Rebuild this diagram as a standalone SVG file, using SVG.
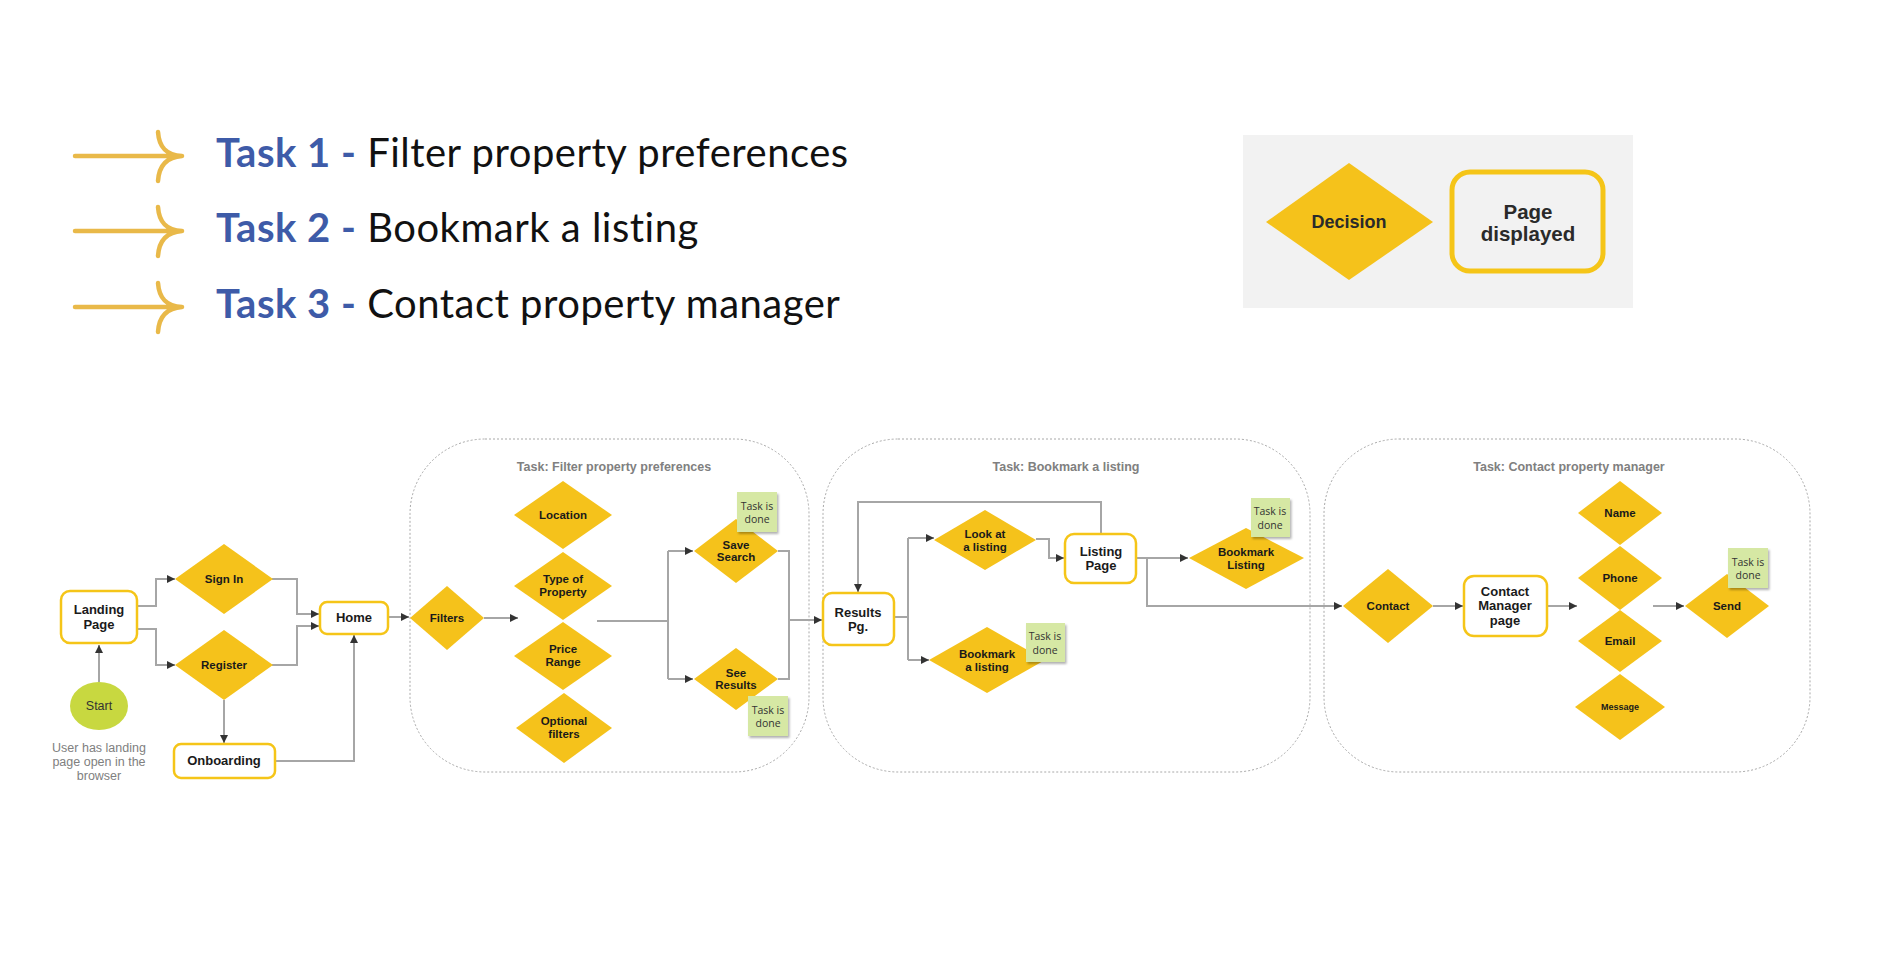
<svg xmlns="http://www.w3.org/2000/svg" width="1900" height="955" viewBox="0 0 1900 955">
<defs>
<style>
.hdr{font-family:Lato,"Liberation Sans",sans-serif;font-size:40px;letter-spacing:0.5px;fill:#111}
.hb{font-weight:bold;fill:#3E5BA8}
.harrow{fill:none;stroke:#E9B949;stroke-width:4.5;stroke-linecap:round}
.dia{fill:#F5C21B}
.page{fill:#fff;stroke:#F5C518;stroke-width:2.5}
.lbl{font-family:"Liberation Sans",Arial,sans-serif;font-weight:bold;font-size:11.5px;fill:#1a1a1a;text-anchor:middle}
.big{font-size:13px}
.conn{fill:none;stroke:#A6A6A6;stroke-width:2}
.task{fill:none;stroke:#A8A8A8;stroke-width:1;stroke-dasharray:2 2}
.title{font-family:"Liberation Sans",Arial,sans-serif;font-weight:bold;font-size:12.5px;fill:#808080;text-anchor:middle}
.note{fill:#D6E8A4}
.nt{font-family:"Open Sans","Liberation Sans",sans-serif;font-size:10.5px;fill:#333;text-anchor:middle}
.cap{font-family:"Liberation Sans",Arial,sans-serif;font-size:12.5px;fill:#808080;text-anchor:middle}
</style>
<marker id="ah" markerWidth="8" markerHeight="8" refX="8" refY="4" orient="auto" markerUnits="userSpaceOnUse">
<path d="M0,0 L8,4 L0,8 Z" fill="#333"/>
</marker>
<filter id="sh" x="-20%" y="-20%" width="150%" height="150%">
<feDropShadow dx="1.5" dy="2" stdDeviation="1.2" flood-color="#000" flood-opacity="0.3"/>
</filter>
</defs>
<rect width="1900" height="955" fill="#fff"/>

<g id="header">
<path class="harrow" d="M75,156 H182 M158,132 C159,147 166,155 182,156 M158,181 C159,166 166,157 182,156"/>
<path class="harrow" d="M75,231 H182 M158,207 C159,222 166,230 182,231 M158,256 C159,241 166,232 182,231"/>
<path class="harrow" d="M75,307 H182 M158,283 C159,298 166,306 182,307 M158,332 C159,317 166,308 182,307"/>
<text class="hdr" x="216" y="167"><tspan class="hb">Task 1 -</tspan> Filter property preferences</text>
<text class="hdr" x="216" y="242"><tspan class="hb">Task 2 -</tspan> Bookmark a listing</text>
<text class="hdr" x="216" y="318"><tspan class="hb">Task 3 -</tspan> Contact property manager</text>
</g>

<g id="legend">
<rect x="1243" y="135" width="390" height="173" fill="#F2F2F2"/>
<polygon class="dia" points="1266,222 1349,163 1433,222 1349,280"/>
<text class="lbl" x="1349" y="228" style="font-size:18px;fill:#2a2a2a">Decision</text>
<rect x="1452" y="172" width="151" height="99" rx="18" fill="#F2F2F2" stroke="#F5C518" stroke-width="5"/>
<text class="lbl" x="1528" y="219" style="font-size:20.5px;fill:#2a2a2a">Page</text>
<text class="lbl" x="1528" y="241" style="font-size:20.5px;fill:#2a2a2a">displayed</text>
</g>

<g id="task-boxes">
<rect class="task" x="410" y="439" width="399" height="333" rx="75"/>
<text class="title" x="614" y="471">Task: Filter property preferences</text>
<rect class="task" x="823" y="439" width="487" height="333" rx="75"/>
<text class="title" x="1066" y="471">Task: Bookmark a listing</text>
<rect class="task" x="1324" y="439" width="486" height="333" rx="75"/>
<text class="title" x="1569" y="471">Task: Contact property manager</text>
</g>

<g id="connectors">
<path class="conn" d="M99,682 V645" marker-end="url(#ah)"/>
<path class="conn" d="M137,606 H156 V579 H175" marker-end="url(#ah)"/>
<path class="conn" d="M137,629 H156 V665 H175" marker-end="url(#ah)"/>
<path class="conn" d="M272,579 H297 V614 H319" marker-end="url(#ah)"/>
<path class="conn" d="M272,665 H297 V626 H319" marker-end="url(#ah)"/>
<path class="conn" d="M224,700 V743" marker-end="url(#ah)"/>
<path class="conn" d="M275,761 H354 V635" marker-end="url(#ah)"/>
<path class="conn" d="M388,617 H409" marker-end="url(#ah)"/>
<path class="conn" d="M484,618 H518" marker-end="url(#ah)"/>
<path class="conn" d="M597,621 H668 M668,551 V679"/>
<path class="conn" d="M668,551 H693" marker-end="url(#ah)"/>
<path class="conn" d="M668,679 H693" marker-end="url(#ah)"/>
<path class="conn" d="M778,551 H789 V679 H778"/>
<path class="conn" d="M789,620 H822" marker-end="url(#ah)"/>
<path class="conn" d="M894,617 H908 M908,538 V660"/>
<path class="conn" d="M908,538 H934" marker-end="url(#ah)"/>
<path class="conn" d="M908,660 H929" marker-end="url(#ah)"/>
<path class="conn" d="M1036,539 H1049 V558 H1064" marker-end="url(#ah)"/>
<path class="conn" d="M1101,534 V502 H858 V592" marker-end="url(#ah)"/>
<path class="conn" d="M1136,558 H1188" marker-end="url(#ah)"/>
<path class="conn" d="M1136,558 H1147 V606 H1342" marker-end="url(#ah)"/>
<path class="conn" d="M1433,606 H1463" marker-end="url(#ah)"/>
<path class="conn" d="M1547,606 H1577" marker-end="url(#ah)"/>
<path class="conn" d="M1653,606 H1684" marker-end="url(#ah)"/>
</g>

<g id="start">
<ellipse cx="99" cy="706" rx="29" ry="24" fill="#C8D840"/>
<text x="99" y="710" style="font-family:'Liberation Sans',Arial,sans-serif;font-size:12.5px;fill:#333;text-anchor:middle">Start</text>
<text class="cap" x="99" y="752">User has landing</text>
<text class="cap" x="99" y="766">page open in the</text>
<text class="cap" x="99" y="780">browser</text>
</g>
<g id="landing"><rect class="page" x="61" y="591" width="76" height="52" rx="9"/><text class="lbl big" x="99" y="614">Landing</text><text class="lbl big" x="99" y="629">Page</text></g>
<g id="signin"><polygon class="dia" points="175,579 224,544 273,579 224,614"/><text class="lbl" x="224" y="583">Sign In</text></g>
<g id="register"><polygon class="dia" points="175,665 224,630 273,665 224,700"/><text class="lbl" x="224" y="669">Register</text></g>
<g id="home"><rect class="page" x="320" y="602" width="68" height="32" rx="7"/><text class="lbl big" x="354" y="622">Home</text></g>
<g id="onboarding"><rect class="page" x="174" y="744" width="101" height="34" rx="7"/><text class="lbl big" x="224" y="765">Onboarding</text></g>

<g id="filters"><polygon class="dia" points="410,618 447,586 484,618 447,650"/><text class="lbl" x="447" y="622">Filters</text></g>
<g id="location"><polygon class="dia" points="514,515 563,481 612,515 563,549"/><text class="lbl" x="563" y="519">Location</text></g>
<g id="type"><polygon class="dia" points="514,586 563,552 612,586 563,620"/><text class="lbl" x="563" y="583">Type of</text><text class="lbl" x="563" y="596">Property</text></g>
<g id="price"><polygon class="dia" points="514,656 563,622 612,656 563,690"/><text class="lbl" x="563" y="653">Price</text><text class="lbl" x="563" y="666">Range</text></g>
<g id="optional"><polygon class="dia" points="516,728 564,693 612,728 564,763"/><text class="lbl" x="564" y="725">Optional</text><text class="lbl" x="564" y="738">filters</text></g>
<g id="savesearch"><polygon class="dia" points="694,551 736,519 778,551 736,583"/><text class="lbl" x="736" y="549">Save</text><text class="lbl" x="736" y="561">Search</text></g>
<g id="seeresults"><polygon class="dia" points="694,679 736,648 778,679 736,710"/><text class="lbl" x="736" y="677">See</text><text class="lbl" x="736" y="689">Results</text></g>
<g id="note1"><rect class="note" x="737" y="492" width="40" height="40" filter="url(#sh)"/><text class="nt" x="757" y="510">Task is</text><text class="nt" x="757" y="523">done</text></g>
<g id="note2"><rect class="note" x="748" y="696" width="40" height="40" filter="url(#sh)"/><text class="nt" x="768" y="714">Task is</text><text class="nt" x="768" y="727">done</text></g>

<g id="results"><rect class="page" x="823" y="593" width="71" height="52" rx="9"/><text class="lbl big" x="858" y="617">Results</text><text class="lbl big" x="858" y="631">Pg.</text></g>
<g id="lookat"><polygon class="dia" points="934,540 985,510 1036,540 985,570"/><text class="lbl" x="985" y="538">Look at</text><text class="lbl" x="985" y="551">a listing</text></g>
<g id="bookmark1"><polygon class="dia" points="929,660 987,627 1045,660 987,693"/><text class="lbl" x="987" y="658">Bookmark</text><text class="lbl" x="987" y="671">a listing</text></g>
<g id="listing"><rect class="page" x="1065" y="534" width="71" height="49" rx="9"/><text class="lbl big" x="1101" y="556">Listing</text><text class="lbl big" x="1101" y="570">Page</text></g>
<g id="bookmark2"><polygon class="dia" points="1189,558 1246,528 1304,558 1246,589"/><text class="lbl" x="1246" y="556">Bookmark</text><text class="lbl" x="1246" y="569">Listing</text></g>
<g id="note3"><rect class="note" x="1251" y="498" width="39" height="39" filter="url(#sh)"/><text class="nt" x="1270" y="515">Task is</text><text class="nt" x="1270" y="529">done</text></g>
<g id="note4"><rect class="note" x="1026" y="623" width="39" height="39" filter="url(#sh)"/><text class="nt" x="1045" y="640">Task is</text><text class="nt" x="1045" y="654">done</text></g>

<g id="contact"><polygon class="dia" points="1343,606 1388,569 1433,606 1388,643"/><text class="lbl" x="1388" y="610">Contact</text></g>
<g id="cmp"><rect class="page" x="1464" y="576" width="83" height="60" rx="10"/><text class="lbl big" x="1505" y="596">Contact</text><text class="lbl big" x="1505" y="610">Manager</text><text class="lbl big" x="1505" y="625">page</text></g>
<g id="name"><polygon class="dia" points="1578,513 1620,481 1662,513 1620,545"/><text class="lbl" x="1620" y="517">Name</text></g>
<g id="phone"><polygon class="dia" points="1578,578 1620,546 1662,578 1620,610"/><text class="lbl" x="1620" y="582">Phone</text></g>
<g id="email"><polygon class="dia" points="1578,641 1620,610 1662,641 1620,672"/><text class="lbl" x="1620" y="645">Email</text></g>
<g id="message"><polygon class="dia" points="1575,707 1620,674 1665,707 1620,740"/><text class="lbl" x="1620" y="710" style="font-size:9px">Message</text></g>
<g id="send"><polygon class="dia" points="1685,606 1727,574 1769,606 1727,638"/><text class="lbl" x="1727" y="610">Send</text></g>
<g id="note5"><rect class="note" x="1728" y="548" width="40" height="40" filter="url(#sh)"/><text class="nt" x="1748" y="566">Task is</text><text class="nt" x="1748" y="579">done</text></g>
</svg>
